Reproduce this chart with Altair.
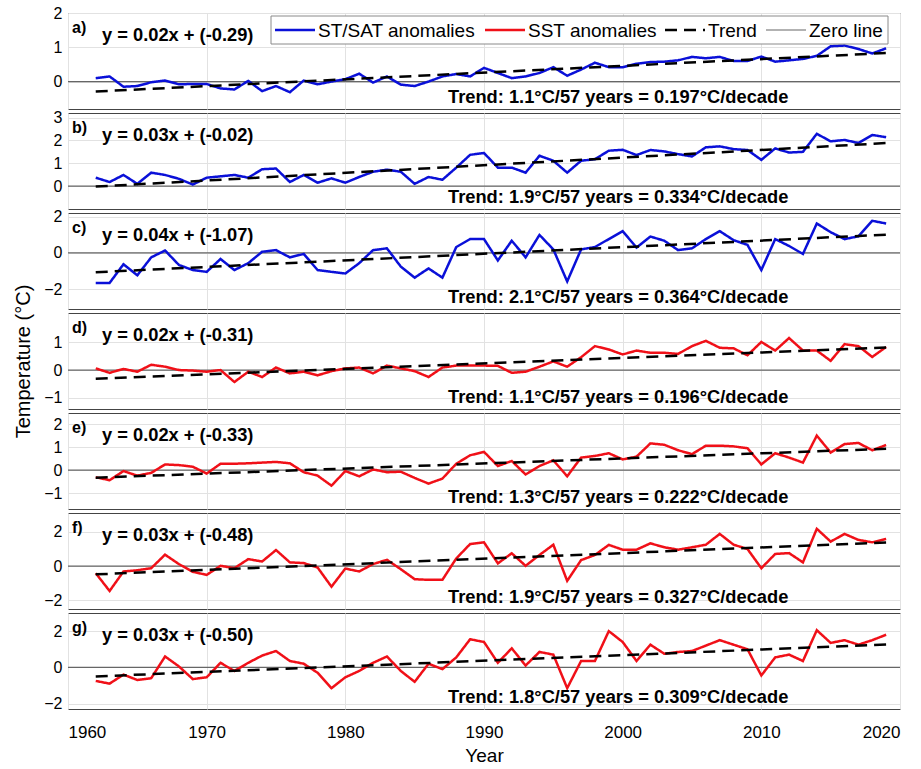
import altair as alt
import pandas as pd

years = list(range(1962, 2020))

panel_a = [0.10, 0.15, -0.15, -0.13, -0.02, 0.03, -0.08, -0.07, -0.07, -0.20,
           -0.23, 0.02, -0.28, -0.13, -0.31, 0.03, -0.08, 0.00, 0.07, 0.23,
           -0.03, 0.15, -0.09, -0.13, 0.00, 0.15, 0.22, 0.15, 0.40, 0.25,
           0.10, 0.15, 0.25, 0.42, 0.17, 0.35, 0.55, 0.42, 0.42, 0.52,
           0.57, 0.58, 0.62, 0.72, 0.68, 0.72, 0.60, 0.60, 0.73, 0.58,
           0.62, 0.66, 0.75, 1.03, 1.05, 0.95, 0.82, 0.97]
panel_b = [0.37, 0.18, 0.49, 0.10, 0.59, 0.49, 0.32, 0.07, 0.37, 0.43,
           0.49, 0.37, 0.74, 0.77, 0.18, 0.49, 0.15, 0.34, 0.15, 0.40,
           0.63, 0.72, 0.63, 0.10, 0.40, 0.28, 0.81, 1.37, 1.45, 0.81,
           0.81, 0.59, 1.33, 1.11, 0.59, 1.11, 1.18, 1.55, 1.59, 1.36,
           1.58, 1.52, 1.40, 1.30, 1.70, 1.74, 1.62, 1.58, 1.15, 1.65,
           1.47, 1.50, 2.29, 1.96, 2.02, 1.89, 2.24, 2.14]
panel_c = [-1.66, -1.66, -0.63, -1.24, -0.25, 0.13, -0.67, -0.95, -1.05, -0.34,
           -0.95, -0.57, 0.06, 0.15, -0.25, -0.06, -0.95, -1.05, -1.14, -0.57,
           0.15, 0.25, -0.76, -1.37, -0.86, -1.37, 0.32, 0.76, 0.76, -0.42,
           0.67, -0.25, 0.99, 0.19, -1.58, 0.19, 0.32, 0.76, 1.20, 0.29,
           0.90, 0.67, 0.15, 0.25, 0.76, 1.20, 0.70, 0.44, -0.95, 0.76,
           0.38, -0.06, 1.62, 1.14, 0.76, 0.91, 1.77, 1.62]
panel_d = [0.06, -0.10, 0.04, -0.06, 0.19, 0.12, 0.00, -0.02, -0.06, 0.00,
           -0.43, -0.06, -0.25, 0.09, -0.12, -0.06, -0.19, -0.04, 0.06, 0.09,
           -0.12, 0.16, 0.06, -0.04, -0.25, 0.09, 0.16, 0.16, 0.16, 0.15,
           -0.10, -0.06, 0.12, 0.31, 0.12, 0.46, 0.86, 0.74, 0.56, 0.70,
           0.62, 0.62, 0.58, 0.86, 1.05, 0.80, 0.78, 0.53, 1.01, 0.70,
           1.15, 0.70, 0.70, 0.33, 0.93, 0.86, 0.47, 0.83]
panel_e = [-0.31, -0.44, -0.04, -0.24, -0.12, 0.25, 0.22, 0.15, -0.15, 0.28,
           0.28, 0.30, 0.33, 0.36, 0.30, -0.09, -0.24, -0.68, -0.04, -0.27,
           0.03, -0.09, -0.07, -0.34, -0.59, -0.37, 0.28, 0.65, 0.80, 0.18,
           0.40, -0.19, 0.18, 0.43, -0.27, 0.55, 0.62, 0.74, 0.47, 0.59,
           1.17, 1.11, 0.87, 0.70, 1.07, 1.07, 1.04, 0.96, 0.25, 0.74,
           0.55, 0.33, 1.51, 0.77, 1.14, 1.19, 0.87, 1.10]
panel_f = [-0.41, -1.45, -0.31, -0.24, -0.12, 0.67, 0.12, -0.33, -0.51, 0.02,
           -0.12, 0.41, 0.27, 0.94, 0.22, 0.18, -0.08, -1.20, -0.14, -0.31,
           0.12, 0.37, -0.18, -0.76, -0.80, -0.80, 0.45, 1.29, 1.39, 0.16,
           0.75, 0.02, 0.65, 1.25, -0.86, 0.35, 0.65, 1.24, 0.96, 0.96,
           1.33, 1.10, 0.96, 1.10, 1.25, 1.88, 1.25, 1.00, -0.12, 0.71,
           0.76, 0.22, 2.18, 1.43, 1.88, 1.53, 1.39, 1.59]
panel_g = [-0.75, -0.90, -0.40, -0.70, -0.60, 0.60, 0.05, -0.65, -0.55, 0.25,
           -0.20, 0.25, 0.65, 0.90, 0.35, 0.20, -0.30, -1.15, -0.55, -0.20,
           0.25, 0.60, -0.20, -0.80, 0.20, -0.10, 0.55, 1.55, 1.40, 0.25,
           1.05, 0.10, 0.85, 0.70, -1.15, 0.35, 0.35, 2.00, 1.40, 0.35,
           1.25, 0.75, 0.85, 0.90, 1.20, 1.50, 1.25, 1.00, -0.45, 0.55,
           0.70, 0.35, 2.05, 1.35, 1.50, 1.25, 1.50, 1.80]

panel_values = [panel_a, panel_b, panel_c, panel_d, panel_e, panel_f, panel_g]
panel_labels = ["a)", "b)", "c)", "d)", "e)", "f)", "g)"]
series_names = ["ST/SAT anomalies"] * 3 + ["SST anomalies"] * 4
slopes = [0.0197, 0.0334, 0.0364, 0.0196, 0.0222, 0.0327, 0.0309]
intercepts = [-0.29, -0.02, -1.07, -0.31, -0.33, -0.48, -0.50]
eq_texts = ["y = 0.02x + (-0.29)", "y = 0.03x + (-0.02)", "y = 0.04x + (-1.07)",
            "y = 0.02x + (-0.31)", "y = 0.02x + (-0.33)", "y = 0.03x + (-0.48)",
            "y = 0.03x + (-0.50)"]
trend_texts = ["Trend: 1.1°C/57 years = 0.197°C/decade",
               "Trend: 1.9°C/57 years = 0.334°C/decade",
               "Trend: 2.1°C/57 years = 0.364°C/decade",
               "Trend: 1.1°C/57 years = 0.196°C/decade",
               "Trend: 1.3°C/57 years = 0.222°C/decade",
               "Trend: 1.9°C/57 years = 0.327°C/decade",
               "Trend: 1.8°C/57 years = 0.309°C/decade"]
y_domains = [[-0.8, 2.0], [-1.0, 3.2], [-3.1, 2.2], [-1.4, 2.05],
             [-1.7, 2.5], [-2.5, 3.1], [-2.3, 3.0]]
y_ticks = [[0, 1, 2], [0, 1, 2, 3], [-2, 0, 2], [-1, 0, 1],
           [-1, 0, 1, 2], [-2, 0, 2], [-2, 0, 2]]
x_ticks = [1960, 1970, 1980, 1990, 2000, 2010, 2020]
legend_names = ["ST/SAT anomalies", "SST anomalies", "Trend", "Zero line"]
legend_colors = ["#0a10d8", "#f01018", "#000000", "#666666"]
legend_dashes = [[1, 0], [1, 0], [12, 7], [1, 0]]
legend_widths = [2.5, 2.5, 2.5, 1.2]

W, H = 832, 96
FONT = "Liberation Sans"

color_enc = alt.Color("series:N", scale=alt.Scale(domain=legend_names, range=legend_colors),
                      legend=None)
dash_enc = alt.StrokeDash("series:N", scale=alt.Scale(domain=legend_names, range=legend_dashes),
                          legend=None)


def legend_layers():
    """Legend box drawn inside panel a (MATLAB-style, top-right)."""
    one = pd.DataFrame({"k": [0]})
    box_left, box_right, box_top, box_bottom = 203, 820, 3, 31
    sym_x = [207, 417, 597, 698]
    sym_len = 40
    ymid = 17
    layers = [alt.Chart(one).mark_rect(fill="white", stroke="#8a8a8a", strokeWidth=1).encode(
        x=alt.value(box_left), x2=alt.value(box_right),
        y=alt.value(box_top), y2=alt.value(box_bottom))]
    for name, col, dash, sw, sx in zip(legend_names, legend_colors, legend_dashes,
                                       legend_widths, sym_x):
        layers.append(alt.Chart(one).mark_rule(color=col, strokeDash=dash, strokeWidth=sw).encode(
            x=alt.value(sx), x2=alt.value(sx + sym_len), y=alt.value(ymid)))
        layers.append(alt.Chart(pd.DataFrame({"t": [name]})).mark_text(
            align="left", baseline="middle", font=FONT, fontSize=19, color="black").encode(
            x=alt.value(sx + sym_len + 3), y=alt.value(ymid + 1), text="t:N"))
    return layers


panels = []
for i in range(7):
    last = i == 6
    df = pd.DataFrame({"year": years, "value": panel_values[i], "series": series_names[i]})
    t0 = intercepts[i]
    t1 = intercepts[i] + slopes[i] * (years[-1] - years[0])
    trend_df = pd.DataFrame({"year": [years[0], years[-1]], "value": [t0, t1],
                             "series": ["Trend", "Trend"]})
    both = pd.concat([df, trend_df], ignore_index=True)
    zero_df = pd.DataFrame({"value": [0.0], "series": ["Zero line"]})

    if last:
        x_axis = alt.Axis(values=x_ticks, format="d", title="Year", labelFontSize=17,
                          titleFontSize=19, ticks=False, domain=False, labelPadding=15,
                          titlePadding=6, titleFontWeight="normal", grid=True)
    else:
        x_axis = alt.Axis(values=x_ticks, labels=False, ticks=False, domain=False,
                          title=None, grid=True)
    x_enc = alt.X("year:Q", scale=alt.Scale(domain=[1960, 2020], nice=False, zero=False),
                  axis=x_axis)
    y_axis = alt.Axis(values=y_ticks[i], labelFontSize=16, ticks=False, domain=False,
                      grid=True, labelPadding=6,
                      title="Temperature (°C)" if i == 3 else None,
                      titleFontSize=20, titleFontWeight="normal", titlePadding=10)
    y_enc = alt.Y("value:Q", scale=alt.Scale(domain=y_domains[i], nice=False, zero=False),
                  axis=y_axis)

    zero = alt.Chart(zero_df).mark_rule(strokeWidth=1.2).encode(
        y=y_enc, color=color_enc, strokeDash=dash_enc)
    lines = alt.Chart(both).mark_line(strokeWidth=2.5).encode(
        x=x_enc, y=y_enc, color=color_enc, strokeDash=dash_enc)
    lab = alt.Chart(pd.DataFrame({"t": [panel_labels[i]]})).mark_text(
        align="left", baseline="middle", font=FONT, fontWeight="bold", fontSize=16,
        color="black").encode(x=alt.value(4), y=alt.value(15), text="t:N")
    eq = alt.Chart(pd.DataFrame({"t": [eq_texts[i]]})).mark_text(
        align="left", baseline="middle", font=FONT, fontWeight="bold", fontSize=18.3,
        color="black").encode(x=alt.value(34), y=alt.value(23), text="t:N")
    tr = alt.Chart(pd.DataFrame({"t": [trend_texts[i]]})).mark_text(
        align="left", baseline="middle", font=FONT, fontWeight="bold", fontSize=18.3,
        color="black").encode(x=alt.value(380), y=alt.value(H - 11), text="t:N")
    layers = [zero, lines, lab, eq, tr]
    if i == 0:
        layers += legend_layers()
    panels.append(alt.layer(*layers).properties(width=W, height=H))

chart = alt.vconcat(*panels, spacing=4, bounds="flush").resolve_scale(
    y="independent", x="shared", color="shared", strokeDash="shared"
).properties(
    padding={"left": 13, "top": 4, "right": 5, "bottom": 2}
).configure_view(
    stroke="#444444", strokeWidth=1
).configure_axis(
    labelFont=FONT, titleFont=FONT, labelColor="black", titleColor="black",
    gridColor="#e2e2e2", gridWidth=1
)

chart.save("out.html", embed_options={"renderer": "svg", "actions": False})
